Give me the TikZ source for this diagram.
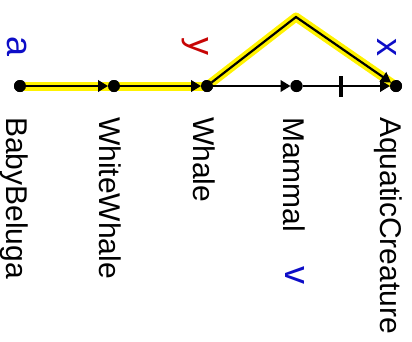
\documentclass[tikz,border=0pt]{standalone}
\usepackage{fontspec}
\setmainfont{Liberation Sans}
\usetikzlibrary{arrows.meta}
\definecolor{lblue}{rgb}{0.05,0.05,0.78}
\definecolor{lred}{rgb}{0.78,0.02,0.02}
\begin{document}
\begin{tikzpicture}[x=1pt,y=-1pt,
  dot/.style={circle,fill=black,minimum size=12pt,inner sep=0pt,outer sep=0pt},
  edge/.style={line width=2.2pt,-{Triangle[length=10pt,width=11.5pt]}},
  hilite/.style={line width=9pt,yellow,line join=round},
  namelbl/.style={font=\fontsize{30}{36}\selectfont,inner sep=0pt,rotate=-90,anchor=base west},
  varlbl/.style={font=\fontsize{36}{42}\selectfont,inner sep=0pt,rotate=-90,anchor=base},
  tickmark/.style={fill=black,minimum width=3.5pt,minimum height=21pt,inner sep=0pt}]
\useasboundingbox (0,0) rectangle (412,341);
% nodes
\node[dot] (bb) at (20,86) {};
\node[dot] (ww) at (114,86) {};
\node[dot] (wh) at (207,86) {};
\node[dot] (ma) at (296.5,86) {};
\node[dot] (aq) at (396,86) {};
\coordinate (peak) at (296,17);
% highlight
\draw[hilite] (bb.center) -- (ww.center) -- (wh.center);
\draw[hilite] (wh.center) -- (peak) -- (aq.center);
% edges
\draw[edge] (bb) -- (ww);
\draw[edge] (ww) -- (wh);
\draw[edge] (wh) -- (ma);
\draw[edge] (ma) -- (aq);
\draw[edge,line join=miter] (wh) -- (peak) -- (aq);
\node[tickmark] (tk) at (341,86) {};
% redraw dots on top
\foreach \n in {bb,ww,wh,ma,aq} \fill (\n) circle (6pt);
% names
\node[namelbl] (tbb) at (6,117) {BabyBeluga};
\node[namelbl] (tww) at (99.5,117) {WhiteWhale};
\node[namelbl] (twh) at (193,117) {Whale};
\node[namelbl] (tma) at (283,117) {Mammal};
\node[namelbl] (taq) at (380.5,117) {AquaticCreature};
% variable labels
\node[varlbl,text=lblue] (la) at (7,46.5) {a};
\node[varlbl,text=lred] (ly) at (189.5,46) {y};
\node[varlbl,text=lblue] (lx) at (377,47.5) {x};
\node[varlbl,text=lblue] (lv) at (285,275.5) {v};
\end{tikzpicture}
\end{document}
